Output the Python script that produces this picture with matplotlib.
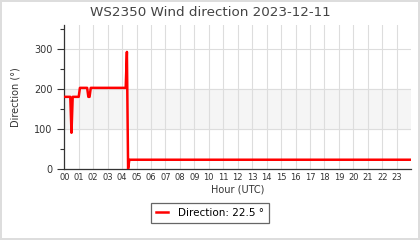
import matplotlib
matplotlib.use("Agg")
import matplotlib.pyplot as plt
from matplotlib.ticker import MultipleLocator

# readings (time of day, wind direction in degrees)
times = ["00:00", "00:25", "00:30", "00:35", "01:00", "01:05", "01:35", "01:40",
         "01:45", "01:50", "04:15", "04:20", "04:25", "04:30", "23:55"]
direction = [180, 180, 90, 180, 180, 202.5, 202.5, 180,
             180, 202.5, 202.5, 292.5, 0, 22.5, 22.5]
hour_labels = ["%02d" % h for h in range(24)]
title = "WS2350 Wind direction 2023-12-11"
legend_label = "Direction: 22.5 °"

# convert HH:MM to decimal hours
hours = [int(t[:2]) + int(t[3:]) / 60 for t in times]

fig = plt.figure(figsize=(4.2, 2.4), dpi=100, linewidth=1.5, edgecolor="#dddddd")
ax = fig.add_axes([0.153, 0.297, 0.826, 0.599])

ax.axhspan(100, 200, color="#f5f5f5", zorder=0)
line, = ax.plot(hours, direction, color="#ff0000", linewidth=1.8, zorder=3)

ax.set_xlim(0, 24)
ax.set_ylim(0, 360)
ax.set_xticks(range(24))
ax.set_xticklabels(hour_labels, fontsize=6, color="#333333")
ax.yaxis.set_major_locator(MultipleLocator(100))
ax.yaxis.set_minor_locator(MultipleLocator(50))
ax.tick_params(axis="x", length=0, pad=3)
ax.tick_params(axis="y", which="major", length=5, width=0.8, colors="#333333", labelsize=7)
ax.tick_params(axis="y", which="minor", length=3, width=0.8, color="#333333")
ax.grid(True, which="major", color="#dddddd", linewidth=0.8, zorder=1)
ax.set_axisbelow(True)

for s in ["top", "right"]:
    ax.spines[s].set_visible(False)
for s in ["left", "bottom"]:
    ax.spines[s].set_color("#333333")
    ax.spines[s].set_linewidth(0.9)

ax.set_xlabel("Hour (UTC)", fontsize=7, color="#333333", labelpad=2)
ax.set_ylabel("Direction (°)", fontsize=7, color="#333333", labelpad=10)
fig.text(0.5, 0.95, title, ha="center", va="center", fontsize=9.7, color="#444444")

leg = fig.legend([line], [legend_label], loc="center", bbox_to_anchor=(0.5, 0.112),
                 fontsize=7.5, fancybox=False, framealpha=1, edgecolor="#666666",
                 handlelength=1.1, handletextpad=1.0, borderpad=0.45, borderaxespad=0)
leg.get_frame().set_linewidth(0.9)

fig.savefig("out.png", dpi=100)
